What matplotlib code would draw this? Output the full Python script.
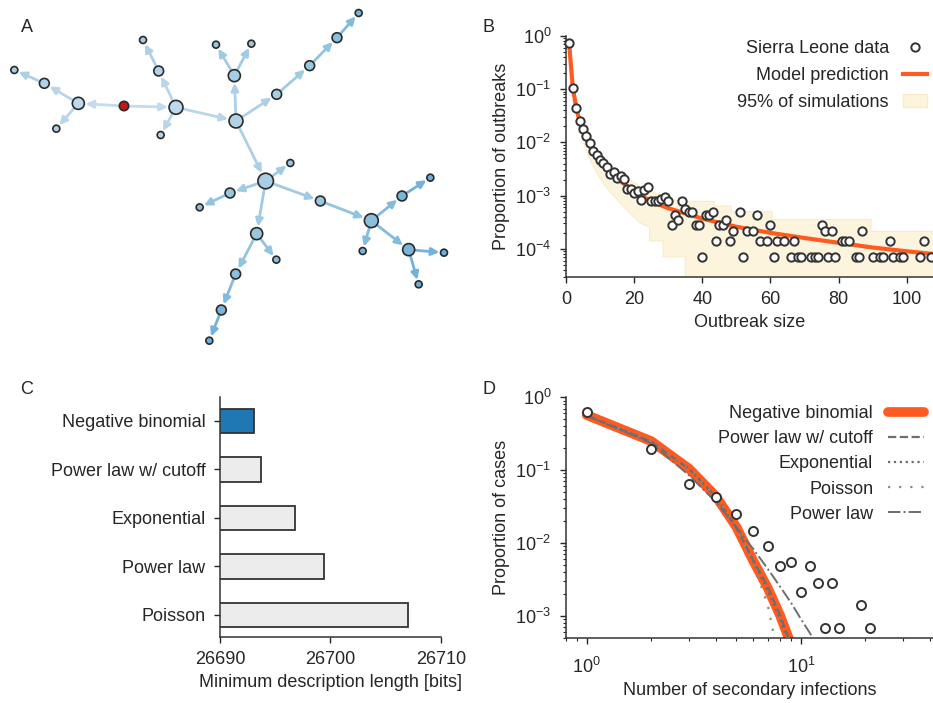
import matplotlib
matplotlib.use("Agg")
import matplotlib.pyplot as plt
import numpy as np
from matplotlib.patches import FancyArrowPatch, Patch
from matplotlib.lines import Line2D

# ---------------- data ----------------
# A: transmission tree (layout coordinates, parent -> child edges)
node_x = [372, 235, 133, 43, 169, 528, 476, 429, 482, 708, 703, 648, 754, 830, 929, 1011, 1076,
          797, 871, 690, 599, 770, 829, 707, 664, 628, 961, 1114, 1206, 1291, 1088, 1226, 1332, 1256]
node_y = [318, 310, 250, 210, 386, 322, 213, 120, 405, 363, 227, 134, 131, 283, 197, 113, 39,
          543, 489, 579, 622, 701, 779, 822, 930, 1022, 603, 662, 588, 533, 753, 749, 758, 853]
edges = [(0, 1), (0, 5), (1, 2), (2, 3), (1, 4), (5, 6), (6, 7), (5, 8), (5, 9), (9, 10), (10, 11),
         (10, 12), (9, 13), (13, 14), (14, 15), (15, 16), (9, 17), (17, 18), (17, 19), (19, 20),
         (17, 21), (21, 22), (21, 23), (23, 24), (24, 25), (17, 26), (26, 27), (27, 28), (28, 29),
         (27, 30), (27, 31), (31, 32), (31, 33)]

# B: outbreak size distribution
sl_size = [1, 2, 3, 4, 5, 6, 7, 8, 9, 10, 11, 12, 13, 14, 15, 16, 17, 18, 19, 20, 21, 22, 23, 24,
           25, 26, 27, 28, 29, 30, 31, 32, 33, 34, 35, 36, 37, 38, 39, 40, 41, 42, 43, 44, 45, 46,
           47, 48, 49, 51, 52, 53, 55, 56, 57, 59, 60, 61, 62, 64, 66, 67, 68, 69, 72, 73, 74, 75,
           76, 77, 78, 79, 81, 82, 83, 85, 86, 87, 90, 92, 93, 95, 96, 98, 99, 104, 105, 107]
sl_prop = [0.73, 0.107, 0.0453, 0.0248, 0.018, 0.0133, 0.0097, 0.0068, 0.0059, 0.0046, 0.0041,
           0.0034, 0.0026, 0.00274, 0.00215, 0.0023, 0.00205, 0.00133, 0.00133, 0.0011, 0.0012,
           0.00084, 0.0013, 0.00143, 0.00078, 0.00078, 0.00078, 0.00085, 0.00094, 0.00078,
           2.84e-4, 4.26e-4, 3.55e-4, 7.8e-4, 5.7e-4, 5.0e-4, 5.0e-4, 2.84e-4, 2.84e-4, 7.1e-5,
           4.26e-4, 4.26e-4, 5.0e-4, 1.42e-4, 2.84e-4, 2.84e-4, 3.55e-4, 1.42e-4, 2.13e-4,
           5.0e-4, 7.1e-5, 2.13e-4, 2.13e-4, 4.26e-4, 1.42e-4, 1.42e-4, 2.84e-4, 7.1e-5, 1.42e-4,
           1.42e-4, 7.1e-5, 1.42e-4, 7.1e-5, 7.1e-5, 7.1e-5, 7.1e-5, 7.1e-5, 2.84e-4, 2.13e-4,
           7.1e-5, 2.13e-4, 7.1e-5, 1.42e-4, 1.42e-4, 1.42e-4, 7.1e-5, 7.1e-5, 2.13e-4, 7.1e-5,
           7.1e-5, 7.1e-5, 1.42e-4, 7.1e-5, 7.1e-5, 7.1e-5, 7.1e-5, 1.42e-4, 7.1e-5]
model_size = [1, 2, 3, 4, 5, 6, 7, 8, 10, 12, 15, 20, 25, 30, 40, 50, 60, 70, 80, 90, 100, 108]
model_prop = [0.62, 0.106, 0.045, 0.025, 0.0163, 0.0115, 0.0085, 0.0066, 0.0044, 0.0032, 0.0021,
              0.00118, 0.00078, 0.00058, 0.00037, 0.00026, 0.0002, 0.00016, 0.00013, 0.000106,
              9e-5, 8e-5]
band_up_x = [1, 2, 3, 4, 5, 6, 8, 10, 12, 15, 18, 21, 25, 29, 33.5, 43.5, 43.5, 48.5, 48.5, 60.5,
             60.5, 89.5, 89.5, 108]
band_up_y = [0.75, 0.125, 0.053, 0.029, 0.0195, 0.014, 0.0083, 0.0057, 0.0042, 0.0029, 0.0021,
             0.0016, 0.0012, 0.00092, 0.00078, 0.00078, 0.00064, 0.00064, 0.0005, 0.0005,
             0.000355, 0.000355, 0.000213, 0.000213]
band_low_x = [1, 2, 3, 4, 5, 6, 8, 10, 12, 14, 16, 18, 20, 22, 24.5, 24.5, 28.5, 28.5, 35, 35, 108]
band_low_y = [0.6, 0.088, 0.034, 0.0175, 0.0105, 0.0068, 0.0036, 0.0021, 0.0014, 0.001, 0.00072,
              0.00053, 0.00039, 0.0003, 0.00026, 0.000142, 0.000142, 7.1e-5, 7.1e-5, 1e-6, 1e-6]

# C: model comparison
model_names = ["Negative binomial", "Power law w/ cutoff", "Exponential", "Power law", "Poisson"]
mdl_bits = [26693.1, 26693.7, 26696.8, 26699.4, 26707.0]

# D: offspring distribution
off_k = [1, 2, 3, 4, 5, 6, 7, 8, 9, 10, 11, 12, 13, 14, 15, 19, 21]
off_prop = [0.62, 0.192, 0.0635, 0.043, 0.025, 0.0146, 0.0091, 0.0049, 0.0055, 0.0021, 0.0049,
            0.0028, 0.00069, 0.0028, 0.00069, 0.00139, 0.00069]
fit_k = [1, 2, 3, 4, 5, 6, 7, 8, 9, 10]
negbin = [0.57, 0.25, 0.105, 0.044, 0.0165, 0.0056, 0.0024, 0.001, 0.0004, 0.00016]
plcut = [0.56, 0.245, 0.104, 0.043, 0.016, 0.0057, 0.0025, 0.001, 0.0004, 0.00016]
expon = [0.57, 0.247, 0.105, 0.044, 0.0162, 0.0056, 0.0022, 0.0009, 0.00035, 0.00013]
poisson = [0.57, 0.25, 0.105, 0.044, 0.0158, 0.0052, 0.0014, 0.0002, 0.00002, 0.000002]
pl_k = [1, 2, 3, 4, 5, 6, 7, 8, 9, 10, 11, 12]
powlaw = [0.56, 0.235, 0.085, 0.037, 0.0163, 0.0082, 0.0044, 0.0025, 0.0015, 0.0009, 0.00058,
          0.00037]

ORANGE = "#ff5a1f"
DARK = "#333333"

plt.rcParams.update({
    "font.family": ["Liberation Sans", "DejaVu Sans"],
    "font.size": 13,
    "text.color": "#262626",
    "axes.labelcolor": "#262626",
    "xtick.color": "#262626",
    "ytick.color": "#262626",
    "axes.edgecolor": DARK,
    "axes.linewidth": 1.1,
    "xtick.major.size": 4.5, "ytick.major.size": 4.5,
    "xtick.minor.size": 2.5, "ytick.minor.size": 2.5,
    "xtick.major.width": 1.0, "ytick.major.width": 1.0,
    "xtick.minor.width": 0.8, "ytick.minor.width": 0.8,
    "xtick.major.pad": 6, "ytick.major.pad": 6,
    "legend.frameon": False,
})

W, H = 933, 703
fig = plt.figure(figsize=(W / 100, H / 100), dpi=100)


def px_axes(l, t, r, b):
    return fig.add_axes([l / W, 1 - b / H, (r - l) / W, (b - t) / H])


def despine(ax):
    ax.spines["top"].set_visible(False)
    ax.spines["right"].set_visible(False)


axA = px_axes(0, 0, 460, 360)
axB = px_axes(566, 36, 932.7, 276.7)
axC = px_axes(220, 396.7, 440.7, 636.7)
axD = px_axes(566, 397.3, 932.7, 637.7)

# ---------------- A ----------------
n = len(node_x)
depth = [0] * n
kids = [0] * n
for p, c in edges:
    depth[c] = depth[p] + 1
    kids[p] += 1
cmap = plt.get_cmap("Blues")
sizes = [25 * (1 + k) for k in kids]
sizes[0] = 45
rad = [np.sqrt(s) / 2 + 0.8 for s in sizes]
for p, c in edges:
    arr = FancyArrowPatch((node_x[p], node_y[p]), (node_x[c], node_y[c]),
                          arrowstyle="-|>,head_length=0.45,head_width=0.22", mutation_scale=10,
                          color=cmap(0.22 + 0.037 * depth[c]), lw=2.0,
                          shrinkA=rad[p], shrinkB=rad[c], zorder=1)
    axA.add_patch(arr)
cols = [cmap(0.24 + 0.037 * d) for d in depth]
cols[0] = "#c4161c"
axA.scatter(node_x, node_y, s=sizes, c=cols, edgecolors="#2a2a2a", linewidths=1.2, zorder=2)
axA.set_xlim(0, 1380)
axA.set_ylim(1080, 0)
axA.axis("off")

# ---------------- B ----------------
axB.fill(np.r_[band_up_x, band_low_x[::-1]], np.r_[band_up_y, band_low_y[::-1]],
         facecolor="#fdf4dd", edgecolor="#faebc6", lw=0.8, zorder=1)
axB.plot(model_size, model_prop, color=ORANGE, lw=3, zorder=3)
axB.plot(sl_size, sl_prop, "o", mfc="white", mec=DARK, mew=1.4, ms=6, zorder=4, clip_on=False)
axB.set_yscale("log")
axB.set_ylim(3e-5, 1)
axB.set_xlim(0, 107.6)
axB.set_xticks([0, 20, 40, 60, 80, 100])
axB.set_xlabel("Outbreak size")
axB.set_ylabel("Proportion of outbreaks")
despine(axB)
hB = [Line2D([], [], ls="none", marker="o", mfc="white", mec=DARK, mew=1.4, ms=6),
      Line2D([], [], color=ORANGE, lw=3),
      Patch(facecolor="#fdf4dd", edgecolor="#faebc6")]
axB.legend(hB, ["Sierra Leone data", "Model prediction", "95% of simulations"],
           loc="upper right", bbox_to_anchor=(1.028, 1.05), markerfirst=False,
           handlelength=1.3, handletextpad=0.8, labelspacing=0.55)

# ---------------- C ----------------
ypos = np.arange(len(model_names))[::-1]
bar_cols = ["#1f77b4"] + ["#ececec"] * (len(model_names) - 1)
axC.barh(ypos, mdl_bits, height=0.5, color=bar_cols, edgecolor=DARK, lw=1.3)
axC.set_xlim(26690, 26710)
axC.set_ylim(-0.45, 4.5)
axC.set_xticks([26690, 26700, 26710])
axC.set_yticks(ypos)
axC.set_yticklabels(model_names)
axC.set_xlabel("Minimum description length [bits]")
despine(axC)

# ---------------- D ----------------
axD.plot(fit_k, negbin, color=ORANGE, lw=7, solid_capstyle="round", zorder=2,
         label="Negative binomial")
axD.plot(fit_k, plcut, color="#6e6e6e", ls="--", lw=1.6, zorder=3, label="Power law w/ cutoff")
axD.plot(fit_k, expon, color="#6e6e6e", ls=":", lw=1.6, zorder=3, label="Exponential")
axD.plot(fit_k, poisson, color="#8a8a8a", ls=(0, (1, 4)), lw=1.6, zorder=3, label="Poisson")
axD.plot(pl_k, powlaw, color="#6e6e6e", ls="-.", lw=1.4, zorder=3, label="Power law")
axD.plot(off_k, off_prop, "o", mfc="white", mec=DARK, mew=1.4, ms=6.5, zorder=4)
axD.set_xscale("log")
axD.set_yscale("log")
axD.set_xlim(0.8, 41.2)
axD.set_ylim(5e-4, 1)
axD.tick_params(axis="x", which="major", pad=9)
axD.set_xlabel("Number of secondary infections")
axD.set_ylabel("Proportion of cases")
despine(axD)
axD.legend(loc="upper right", bbox_to_anchor=(1.02, 1.035), markerfirst=False,
           handlelength=2.0, handletextpad=0.8, labelspacing=0.45)

for lab, x, y in [("A", 27, 27), ("B", 489, 27), ("C", 27, 389), ("D", 489, 389)]:
    fig.text(x / W, 1 - y / H, lab, ha="center", va="center", fontsize=13)

fig.savefig("out.png", dpi=100)
